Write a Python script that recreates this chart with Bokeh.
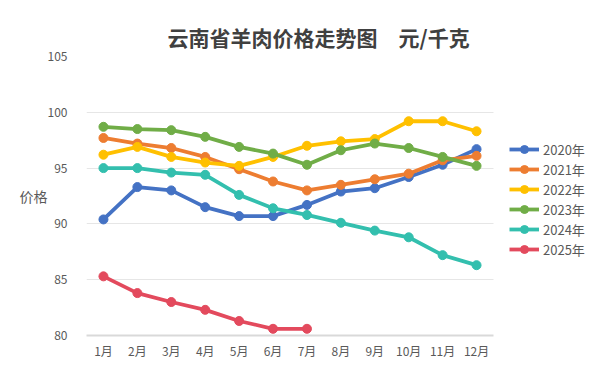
from bokeh.plotting import figure
from bokeh.models import Legend, LegendItem, FixedTicker, Range1d
from bokeh.embed import file_html
from bokeh.resources import INLINE

months = ["1月", "2月", "3月", "4月", "5月", "6月", "7月", "8月", "9月", "10月", "11月", "12月"]
month_no = [1, 2, 3, 4, 5, 6, 7, 8, 9, 10, 11, 12]
years = ["2020年", "2021年", "2022年", "2023年", "2024年", "2025年"]
v2020 = [90.4, 93.3, 93.0, 91.5, 90.7, 90.7, 91.7, 92.9, 93.2, 94.2, 95.3, 96.7]
v2021 = [97.7, 97.2, 96.8, 96.0, 94.9, 93.8, 93.0, 93.5, 94.0, 94.5, 95.7, 96.1]
v2022 = [96.2, 96.9, 96.0, 95.5, 95.2, 96.0, 97.0, 97.4, 97.6, 99.2, 99.2, 98.3]
v2023 = [98.7, 98.5, 98.4, 97.8, 96.9, 96.3, 95.3, 96.6, 97.2, 96.8, 96.0, 95.2]
v2024 = [95.0, 95.0, 94.6, 94.4, 92.6, 91.4, 90.8, 90.1, 89.4, 88.8, 87.2, 86.3]
v2025 = [85.3, 83.8, 83.0, 82.3, 81.3, 80.6, 80.6]
series = [v2020, v2021, v2022, v2023, v2024, v2025]
colors = ["#4472C4", "#ED7D31", "#FFC000", "#70AD47", "#33BFAE", "#E34A5D"]
yticks = [80, 85, 90, 95, 100, 105]

FONT = "Noto Sans CJK SC"

# plot area: 12 month slots of the chart, plus room on the right for the legend
SLOT_PX = 407 / 12
FRAME_W = 505
x_start = 0.5
x_end = x_start + FRAME_W / SLOT_PX
x_last = len(months) + 0.5

p = figure(frame_width=FRAME_W, frame_height=279,
           x_range=Range1d(x_start, x_end), y_range=Range1d(80, 105),
           output_backend="svg", toolbar_location=None,
           min_border_left=86, min_border_right=0, min_border_bottom=5, min_border_top=56)
p.outline_line_color = None
p.background_fill_color = "white"

p.title.text = "云南省羊肉价格走势图　元/千克"
p.title.text_font = FONT
p.title.text_font_size = "21px"
p.title.text_font_style = "bold"
p.title.text_color = "#404040"
p.title.align = "left"
p.title.offset = 81
p.title.standoff = 9

ax = p.yaxis[0]
ax.ticker = FixedTicker(ticks=yticks)
ax.axis_line_color = None
ax.major_tick_line_color = None
ax.minor_tick_line_color = None
ax.major_tick_out = 0
ax.major_tick_in = 0
ax.major_label_text_font = FONT
ax.major_label_text_font_size = "12px"
ax.major_label_text_color = "#595959"
ax.major_label_standoff = 19
ax.axis_label = "价格"
ax.axis_label_text_font = FONT
ax.axis_label_text_font_size = "14px"
ax.axis_label_text_font_style = "normal"
ax.axis_label_text_color = "#595959"
ax.axis_label_standoff = -3
if "axis_label_orientation" in ax.properties():
    ax.axis_label_orientation = "horizontal"

xa = p.xaxis[0]
xa.ticker = FixedTicker(ticks=month_no)
xa.major_label_overrides = {n: m for n, m in zip(month_no, months)}
xa.bounds = (x_start, x_last)
xa.axis_line_color = "#D9D9D9"
xa.axis_line_width = 2
xa.major_tick_line_color = None
xa.minor_tick_line_color = None
xa.major_tick_out = 0
xa.major_tick_in = 0
xa.major_label_text_font = FONT
xa.major_label_text_font_size = "12px"
xa.major_label_text_color = "#595959"
xa.major_label_standoff = 6

p.xgrid.grid_line_color = None
yg = p.ygrid[0]
if "cross_bounds" in yg.properties():
    yg.grid_line_color = "#E6E6E6"
    yg.grid_line_width = 1
    yg.cross_bounds = (x_start, x_last)
else:
    yg.grid_line_color = None
    p.segment(x0=[x_start] * len(yticks), x1=[x_last] * len(yticks), y0=yticks, y1=yticks,
              line_color="#E6E6E6", line_width=1, level="underlay")

items = []
for name, vals, c in zip(years, series, colors):
    xs = month_no[:len(vals)]
    r1 = p.line(xs, vals, line_color=c, line_width=3.8)
    r2 = p.scatter(xs, vals, marker="circle", size=9, fill_color=c, line_color=c)
    items.append(LegendItem(label=name, renderers=[r1, r2]))

legend = Legend(items=items, location=(423, 76))
legend.border_line_color = None
legend.background_fill_alpha = 0
legend.label_text_font = FONT
legend.label_text_font_size = "13px"
legend.label_text_color = "#595959"
legend.glyph_width = 30
legend.glyph_height = 20
legend.label_height = 20
legend.spacing = 0
legend.padding = 2
legend.margin = 0
legend.label_standoff = 4
p.add_layout(legend)

open("out.html", "w").write(file_html(p, INLINE))
